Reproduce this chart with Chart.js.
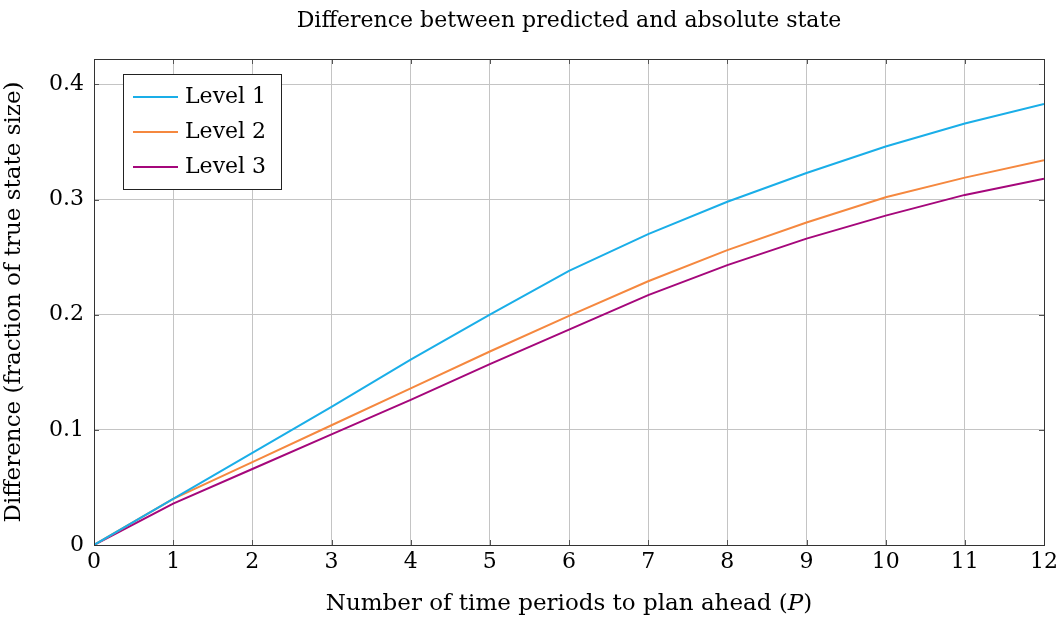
<!DOCTYPE html>
<html>
<head>
<meta charset="utf-8">
<script src="https://cdn.jsdelivr.net/npm/chart.js@4.4.1/dist/chart.umd.min.js"></script>
<style>
  html, body { margin: 0; padding: 0; background: #fff; }
  #wrap { width: 1062px; height: 621px; }
</style>
</head>
<body>
<div id="wrap"><canvas id="c" width="1062" height="621"></canvas></div>
<script>
const periods = [0, 1, 2, 3, 4, 5, 6, 7, 8, 9, 10, 11, 12];
const level1 = [0, 0.040, 0.080, 0.120, 0.161, 0.200, 0.238, 0.270, 0.298, 0.323, 0.346, 0.366, 0.383];
const level2 = [0, 0.040, 0.072, 0.104, 0.136, 0.168, 0.199, 0.229, 0.256, 0.280, 0.302, 0.319, 0.334];
const level3 = [0, 0.036, 0.066, 0.096, 0.126, 0.157, 0.187, 0.217, 0.243, 0.266, 0.286, 0.304, 0.318];
const seriesNames = ["Level 1", "Level 2", "Level 3"];
const seriesColors = ["#1aaee8", "#f5883f", "#a5077b"];
const yTicks = [0, 0.1, 0.2, 0.3, 0.4];

const FONT = "'DejaVu Serif', serif";

function pts(vals) {
	return vals.map((v, i) => ({x: periods[i], y: v}));
}

// title, inward tick marks, legend box and x-axis title with italic P
const decor = {
	id: "decor",
	afterDraw(chart) {
		const ctx = chart.ctx;
		const a = chart.chartArea;
		const xs = chart.scales.x, ys = chart.scales.y;
		ctx.save();
		ctx.fillStyle = "#000";
		ctx.textBaseline = "middle";
		ctx.textAlign = "center";
		ctx.font = "22px " + FONT;
		ctx.fillText("Difference between predicted and absolute state", (a.left + a.right) / 2, 21);

		// tick marks pointing inwards
		ctx.strokeStyle = "#555";
		ctx.lineWidth = 1;
		ctx.beginPath();
		for (const p of periods) {
			const x = Math.round(xs.getPixelForValue(p)) + 0.5;
			ctx.moveTo(x, a.bottom); ctx.lineTo(x, a.bottom - 5);
			ctx.moveTo(x, a.top); ctx.lineTo(x, a.top + 5);
		}
		for (const t of yTicks) {
			const y = Math.round(ys.getPixelForValue(t)) + 0.5;
			ctx.moveTo(a.left, y); ctx.lineTo(a.left + 5, y);
			ctx.moveTo(a.right, y); ctx.lineTo(a.right - 5, y);
		}
		ctx.stroke();

		// border
		ctx.strokeStyle = "#333";
		ctx.strokeRect(Math.round(a.left) + 0.5, Math.round(a.top) + 0.5, Math.round(a.right - a.left), Math.round(a.bottom - a.top));

		// legend
		const lx = a.left + 29, ly = a.top + 15, lw = 158, lh = 115;
		ctx.fillStyle = "#fff";
		ctx.fillRect(lx, ly, lw, lh);
		ctx.strokeStyle = "#222";
		ctx.strokeRect(lx + 0.5, ly + 0.5, lw, lh);
		ctx.textAlign = "left";
		ctx.font = "22px " + FONT;
		chart.data.datasets.forEach((ds, i) => {
			const cy = ly + 23 + i * 35;
			ctx.strokeStyle = ds.borderColor;
			ctx.lineWidth = 2;
			ctx.beginPath();
			ctx.moveTo(lx + 10, cy); ctx.lineTo(lx + 55, cy);
			ctx.stroke();
			ctx.fillStyle = "#000";
			ctx.fillText(ds.label, lx + 62, cy);
		});

		// x-axis title
		const parts = [["Number of time periods to plan ahead (", "normal"], ["P", "italic"], [")", "normal"]];
		let total = 0;
		for (const p of parts) { ctx.font = p[1] + " 23px " + FONT; total += ctx.measureText(p[0]).width; }
		let x0 = (a.left + a.right) / 2 - total / 2;
		for (const p of parts) {
			ctx.font = p[1] + " 23px " + FONT;
			ctx.fillText(p[0], x0, 604);
			x0 += ctx.measureText(p[0]).width;
		}
		ctx.restore();
	}
};

new Chart(document.getElementById("c"), {
	type: "line",
	data: {
		datasets: seriesNames.map((name, i) => ({
			label: name,
			data: pts([level1, level2, level3][i]),
			borderColor: seriesColors[i],
			backgroundColor: seriesColors[i],
			borderWidth: 2,
			pointRadius: 0,
			fill: false,
			tension: 0
		}))
	},
	options: {
		responsive: false,
		animation: false,
		layout: {padding: {top: 59, right: 16, left: 0, bottom: 0}},
		plugins: {legend: {display: false}, title: {display: false}, tooltip: {enabled: false}},
		scales: {
			x: {
				type: "linear",
				min: 0, max: 12,
				afterFit: s => { s.height = 76; },
				afterBuildTicks: s => { s.ticks = periods.map(v => ({value: v})); },
				grid: {color: "#c4c4c4", drawTicks: false, lineWidth: 1},
				border: {display: false},
				ticks: {font: {family: FONT, size: 22}, color: "#000", padding: 4, maxRotation: 0}
			},
			y: {
				type: "linear",
				min: 0, max: 0.422,
				afterFit: s => { s.width = 94; },
				afterBuildTicks: s => { s.ticks = yTicks.map(v => ({value: v})); },
				grid: {color: "#c4c4c4", drawTicks: false, lineWidth: 1},
				border: {display: false},
				ticks: {font: {family: FONT, size: 22}, color: "#000", padding: 10,
					callback: v => v === 0 ? "0" : v.toFixed(1)},
				title: {display: true, text: "Difference (fraction of true state size)",
					font: {family: FONT, size: 23}, color: "#000", padding: {top: 0, bottom: 2}}
			}
		}
	},
	plugins: [decor]
});
</script>
</body>
</html>
